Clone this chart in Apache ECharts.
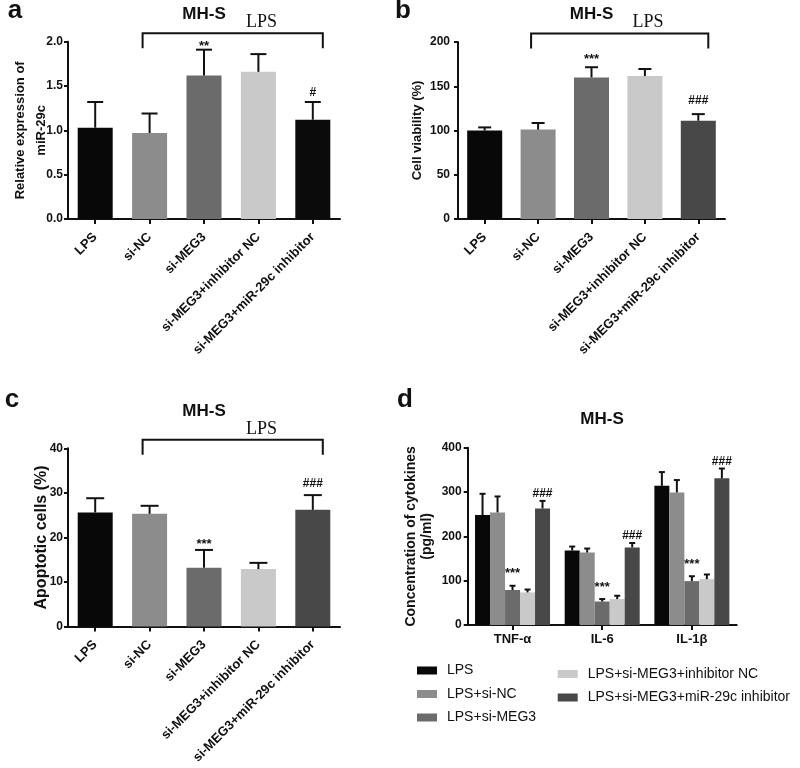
<!DOCTYPE html>
<html><head><meta charset="utf-8">
<script src="https://cdn.jsdelivr.net/npm/echarts@6/dist/echarts.min.js"></script>
<style>html,body{margin:0;padding:0;background:#fff}#c{width:800px;height:768px}</style>
</head><body><div id="c"></div>
<script>
// ---------- DATA ----------
const groups = ['LPS','si-NC','si-MEG3','si-MEG3+inhibitor NC','si-MEG3+miR-29c inhibitor'];
const mirMean = [1.03, 0.97, 1.62, 1.66, 1.12];
const mirErr  = [0.29, 0.22, 0.29, 0.20, 0.20];
const mirSig  = ['', '', '**', '', '#'];
const mirTicks = [0, 0.5, 1.0, 1.5, 2.0];

const viaMean = [100, 101, 160, 161.5, 111];
const viaErr  = [3.5, 7.5, 11.5, 8, 7.5];
const viaSig  = ['', '', '***', '', '###'];
const viaTicks = [0, 50, 100, 150, 200];

const apoMean = [25.6, 25.3, 13.2, 12.9, 26.2];
const apoErr  = [3.2, 1.8, 4.0, 1.4, 3.3];
const apoSig  = ['', '', '***', '', '###'];
const apoTicks = [0, 10, 20, 30, 40];

const cytokines = ['TNF-α', 'IL-6', 'IL-1β'];
const cytoNames = ['LPS','LPS+si-NC','LPS+si-MEG3','LPS+si-MEG3+inhibitor NC','LPS+si-MEG3+miR-29c inhibitor'];
const cytoLPS     = [248, 168, 314];
const cytoSiNC    = [254, 163.5, 299];
const cytoSiMEG3  = [79, 53, 99];
const cytoInhNC   = [73.5, 58.5, 103.5];
const cytoMiRInh  = [263, 175, 331];
const cytoLPSErr    = [48, 9, 31];
const cytoSiNCErr   = [36, 9, 28];
const cytoSiMEG3Err = [9.5, 5.5, 11];
const cytoInhNCErr  = [6.5, 7.5, 10.5];
const cytoMiRInhErr = [17, 10, 22];
const cytoSigSiMEG3 = ['***', '***', '***'];
const cytoSigMiRInh = ['###', '###', '###'];
const cytoTicks = [0, 100, 200, 300, 400];

const bracketFrom = 'si-NC', bracketTo = 'si-MEG3+miR-29c inhibitor', bracketText = 'LPS', bracketTextAt = 'si-MEG3+inhibitor NC';
const cellLine = 'MH-S';
const yTitles = ['Relative expression of\nmiR-29c', 'Cell viability (%)', 'Apoptotic cells (%)', 'Concentration of cytokines\n(pg/ml)'];

// ---------- STYLE ----------
const FF = '"Liberation Sans", Arial, sans-serif';
const INK = '#111';
const colorsA  = ['#080808', '#8c8c8c', '#6b6b6b', '#c9c9c9', '#0b0b0b'];
const colorsBC = ['#080808', '#8c8c8c', '#6b6b6b', '#c9c9c9', '#484848'];

const grids = [
  {left: 68, top: 41.7, width: 272, height: 177.3},
  {left: 458, top: 42, width: 267, height: 177},
  {left: 68, top: 448.3, width: 272, height: 178.3},
  {left: 467.7, top: 447.7, width: 269, height: 177.3}
];

function tickAxis(ticks) {
  return {min: ticks[0], max: ticks[ticks.length-1], interval: ticks[1]-ticks[0]};
}

function yAxis(i, ticks, fmt, margin, nameGap, nameSize, lineH) {
  return Object.assign({
    type: 'value', gridIndex: i,
    axisLine: {show: true, lineStyle: {color: INK, width: 2}},
    axisTick: {show: true, length: 4, lineStyle: {color: INK, width: 2}},
    axisLabel: {margin: margin, fontSize: 12, fontWeight: 'bold', fontFamily: FF, color: INK, formatter: fmt},
    splitLine: {show: false},
    name: yTitles[i], nameLocation: 'middle', nameGap: nameGap, nameMoveOverlap: false,
    nameTextStyle: {fontSize: nameSize, fontWeight: 'bold', fontFamily: FF, color: INK, lineHeight: lineH}
  }, tickAxis(ticks));
}

function xAxis(i, cats, rotate, margin, size) {
  return {
    type: 'category', gridIndex: i, data: cats,
    axisLine: {show: true, lineStyle: {color: INK, width: 2}},
    axisTick: {show: true, alignWithLabel: true, length: 5, lineStyle: {color: INK, width: 2}},
    axisLabel: {interval: 0, rotate: rotate, margin: margin, fontSize: size, fontWeight: 'bold', fontFamily: FF, color: INK, hideOverlap: false},
    splitLine: {show: false}
  };
}

function errSeries(ai, means, errs, sigs, o) {
  return {
    type: 'custom', xAxisIndex: ai, yAxisIndex: ai, z: 10, silent: true, clip: false,
    data: means.map((m, k) => [k, m, errs[k]]),
    encode: {x: 0, y: 1},
    renderItem(params, api) {
      const k = params.dataIndex;
      const base = api.coord([api.value(0), api.value(1)]);
      const top = api.coord([api.value(0), api.value(1) + api.value(2)]);
      const x = base[0] + (o.offset || 0);
      const ch = [
        {type: 'line', shape: {x1: x, y1: base[1], x2: x, y2: top[1]}, style: {stroke: INK, lineWidth: o.lw}},
        {type: 'line', shape: {x1: x - o.cap/2, y1: top[1], x2: x + o.cap/2, y2: top[1]}, style: {stroke: INK, lineWidth: o.lw}}
      ];
      const s = sigs[k];
      if (s) {
        const star = s.charAt(0) === '*';
        ch.push({type: 'text', style: {
          text: s, x: x, y: top[1] - (star ? o.gapStar : o.gapHash),
          align: 'center', verticalAlign: 'middle',
          fontSize: star ? 13 : 12, fontWeight: 'bold', fontFamily: FF, fill: INK
        }});
      }
      return {type: 'group', children: ch};
    }
  };
}

function bracketSeries(ai) {
  return {
    type: 'custom', xAxisIndex: ai, yAxisIndex: ai, z: 10, silent: true, clip: false,
    data: [[groups.indexOf(bracketFrom), groups.indexOf(bracketTo), groups.indexOf(bracketTextAt)]],
    encode: {x: [0, 1]},
    renderItem(params, api) {
      const cs = params.coordSys;
      const x1 = api.coord([api.value(0), 0])[0] - 7;
      const x2 = api.coord([api.value(1), 0])[0] + 10;
      const xt = api.coord([api.value(2), 0])[0] + 3;
      const yt = cs.y - 8.5, yb = cs.y + 6.5;
      return {type: 'group', children: [
        {type: 'polyline', shape: {points: [[x1, yb], [x1, yt], [x2, yt], [x2, yb]]}, style: {stroke: INK, lineWidth: 2, fill: null}},
        {type: 'text', style: {text: bracketText, x: xt, y: yt - 11, align: 'center', verticalAlign: 'middle',
          fontSize: 18, fontFamily: '"Liberation Serif", "Times New Roman", serif', fill: INK}}
      ]};
    }
  };
}

function barSeries(ai, means, colors, w) {
  return {
    type: 'bar', xAxisIndex: ai, yAxisIndex: ai, barWidth: w, silent: true,
    data: means.map((m, k) => ({value: m, itemStyle: {color: colors[k]}}))
  };
}

const cytoMeans = [cytoLPS, cytoSiNC, cytoSiMEG3, cytoInhNC, cytoMiRInh];
const cytoErrs = [cytoLPSErr, cytoSiNCErr, cytoSiMEG3Err, cytoInhNCErr, cytoMiRInhErr];
const cytoSigs = [['','',''], ['','',''], cytoSigSiMEG3, ['','',''], cytoSigMiRInh];
const BW = 15;

const series = [
  barSeries(0, mirMean, colorsA, 35),
  errSeries(0, mirMean, mirErr, mirSig, {cap: 16, lw: 2, gapStar: 3, gapHash: 9}),
  bracketSeries(0),
  barSeries(1, viaMean, colorsBC, 35),
  errSeries(1, viaMean, viaErr, viaSig, {cap: 13, lw: 2, gapStar: 8, gapHash: 13}),
  bracketSeries(1),
  barSeries(2, apoMean, colorsBC, 35),
  errSeries(2, apoMean, apoErr, apoSig, {cap: 18, lw: 2, gapStar: 6, gapHash: 11}),
  bracketSeries(2)
];
cytoNames.forEach((n, s) => {
  series.push({
    type: 'bar', name: n, xAxisIndex: 3, yAxisIndex: 3, barWidth: BW, barGap: '0%', silent: true,
    itemStyle: {color: colorsBC[s]}, data: cytoMeans[s]
  });
});
cytoNames.forEach((n, s) => {
  series.push(errSeries(3, cytoMeans[s], cytoErrs[s], cytoSigs[s], {cap: 6, lw: 2, gapStar: 12, gapHash: 7, offset: (s - 2) * BW}));
});

const titleStyle = (t, x, y, size) => ({type: 'text', x: x, y: y, style: {text: t, align: 'center', verticalAlign: 'middle', fontSize: size, fontWeight: 'bold', fontFamily: FF, fill: INK}});

const legendBase = {
  orient: 'vertical', icon: 'rect', itemWidth: 20, itemHeight: 8, itemGap: 7.5, selectedMode: false, padding: 0,
  textStyle: {fontSize: 14, fontFamily: FF, color: INK, lineHeight: 16, padding: [0, 0, 0, 5]}
};

const option = {
  animation: false,
  backgroundColor: '#fff',
  grid: grids.map(g => Object.assign({outerBoundsMode: 'none', containLabel: false}, g)),
  xAxis: [
    xAxis(0, groups, 45, 16, 13),
    xAxis(1, groups, 45, 16, 13),
    xAxis(2, groups, 45, 16, 13),
    xAxis(3, cytokines, 0, 8, 13)
  ],
  yAxis: [
    yAxis(0, mirTicks, v => v.toFixed(1), 5, 16, 13, 21),
    yAxis(1, viaTicks, v => String(v), 8, 33, 13, 16),
    yAxis(2, apoTicks, v => String(v), 5, 17, 16, 18),
    yAxis(3, cytoTicks, v => String(v), 6, 33, 14, 16)
  ],
  legend: [
    Object.assign({left: 417, top: 662.5, data: cytoNames.slice(0, 3)}, legendBase),
    Object.assign({left: 557.7, top: 666, data: cytoNames.slice(3)}, legendBase)
  ],
  graphic: [
    titleStyle(cellLine, 204, 14, 17),
    titleStyle(cellLine, 591.5, 14, 17),
    titleStyle(cellLine, 204, 411.7, 17),
    titleStyle(cellLine, 602, 419.3, 17),
    titleStyle('a', 15, 11, 26),
    titleStyle('b', 403, 11, 26),
    titleStyle('c', 12, 400, 26),
    titleStyle('d', 405, 400, 26)
  ],
  series: series
};

const chart = echarts.init(document.getElementById('c'), null, {renderer: 'canvas'});
chart.setOption(option);
</script></body></html>
